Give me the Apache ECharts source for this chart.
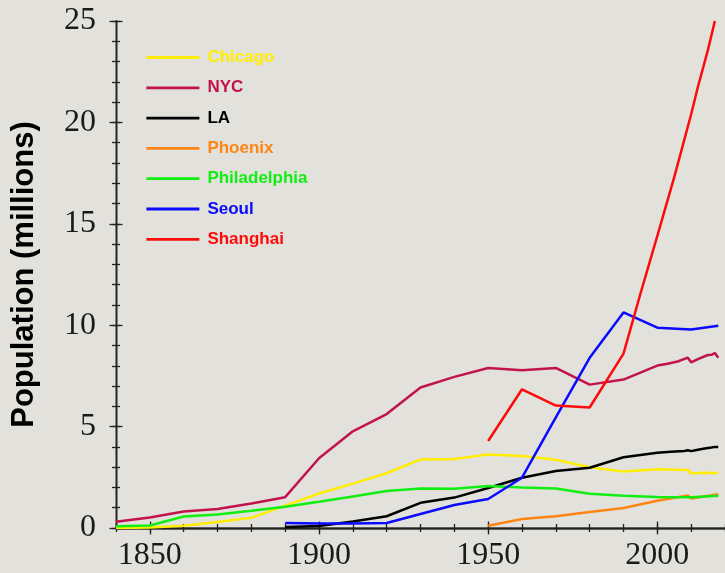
<!DOCTYPE html>
<html lang="en">
<head>
    <meta charset="utf-8">
    <title>City populations</title>
    <script src="https://cdn.jsdelivr.net/npm/echarts@6/dist/echarts.min.js"></script>
    <style>
        html, body { margin: 0; padding: 0; background: #e2e1dc; }
    </style>
</head>
<body>
<div id="main" style="width:725px;height:573px;"></div>
<script type="text/javascript">
    // population in millions
    var chicagoYears = [1840, 1850, 1860, 1870, 1880, 1890, 1900, 1910, 1920, 1930, 1940, 1950, 1960, 1970, 1980, 1990, 2000, 2009, 2010, 2014, 2018];
    var chicagoPop = [0.005, 0.03, 0.11, 0.30, 0.50, 1.10, 1.70, 2.19, 2.70, 3.38, 3.40, 3.62, 3.55, 3.37, 3.00, 2.78, 2.90, 2.86, 2.70, 2.72, 2.71];

    var nycYears = [1840, 1850, 1860, 1870, 1880, 1890, 1900, 1910, 1920, 1930, 1940, 1950, 1960, 1970, 1980, 1990, 2000, 2003, 2006, 2009, 2010, 2012, 2014, 2015, 2016, 2017, 2018];
    var nycPop = [0.31, 0.52, 0.81, 0.94, 1.21, 1.52, 3.44, 4.77, 5.62, 6.93, 7.45, 7.89, 7.78, 7.89, 7.07, 7.32, 8.01, 8.10, 8.21, 8.40, 8.17, 8.33, 8.47, 8.53, 8.54, 8.63, 8.40];

    var laYears = [1890, 1900, 1910, 1920, 1930, 1940, 1950, 1960, 1970, 1980, 1990, 2000, 2004, 2008, 2009, 2010, 2012, 2014, 2016, 2017, 2018];
    var laPop = [0.05, 0.10, 0.32, 0.58, 1.24, 1.50, 1.97, 2.48, 2.81, 2.97, 3.49, 3.71, 3.76, 3.80, 3.83, 3.79, 3.86, 3.92, 3.97, 4.00, 3.99];

    var phoenixYears = [1950, 1960, 1970, 1980, 1990, 2000, 2009, 2010, 2018];
    var phoenixPop = [0.11, 0.44, 0.58, 0.79, 0.99, 1.34, 1.60, 1.45, 1.66];

    var phillyYears = [1840, 1850, 1860, 1870, 1880, 1890, 1900, 1910, 1920, 1930, 1940, 1950, 1960, 1970, 1980, 1990, 2000, 2010, 2018];
    var phillyPop = [0.09, 0.12, 0.57, 0.67, 0.85, 1.05, 1.29, 1.55, 1.82, 1.95, 1.93, 2.07, 2.00, 1.95, 1.69, 1.59, 1.53, 1.52, 1.59];

    var seoulYears = [1890, 1900, 1910, 1920, 1940, 1950, 1960, 1970, 1980, 1990, 2000, 2010, 2018];
    var seoulPop = [0.25, 0.22, 0.22, 0.25, 1.13, 1.43, 2.48, 5.45, 8.39, 10.63, 9.88, 9.79, 9.97];

    var shanghaiYears = [1950, 1960, 1970, 1980, 1990, 1995, 2000, 2005, 2010, 2012, 2015, 2017];
    var shanghaiPop = [4.29, 6.84, 6.04, 5.94, 8.60, 11.55, 14.40, 17.30, 20.40, 21.76, 23.60, 25.0];

    var cityNames = ['Chicago', 'NYC', 'LA', 'Phoenix', 'Philadelphia', 'Seoul', 'Shanghai'];
    var cityColors = ['#ffee00', '#c3134d', '#000000', '#ff8512', '#11ee11', '#0a0aff', '#ff0a0a'];
    var cityData = [
        [chicagoYears, chicagoPop],
        [nycYears, nycPop],
        [laYears, laPop],
        [phoenixYears, phoenixPop],
        [phillyYears, phillyPop],
        [seoulYears, seoulPop],
        [shanghaiYears, shanghaiPop]
    ];

    var xLabelValues = [1850, 1900, 1950, 2000];

    var axisColor = '#222222';
    var serifFont = '"Liberation Serif", "DejaVu Serif", serif';

    function pairs(xs, ys) {
        return xs.map(function (x, i) { return [x, ys[i]]; });
    }

    function plain(v) {
        return String(v);
    }

    // one axis per tick set, so ticks can cross the line
    function xAxisPart(inside, major, withLabel) {
        var tick = { show: true, inside: inside, length: major ? 6.5 : 4, lineStyle: { color: axisColor, width: 1.3 } };
        if (major) tick.customValues = xLabelValues;
        return {
            type: 'value', min: 1840, max: 2020, interval: 10,
            position: 'bottom', offset: 0,
            axisLine: { show: true, lineStyle: { color: axisColor, width: 1.3 } },
            axisTick: tick,
            axisLabel: {
                show: withLabel, customValues: xLabelValues, margin: 12,
                formatter: plain,
                fontFamily: serifFont, fontSize: 32, color: '#1a1a1a'
            },
            splitLine: { show: false }
        };
    }

    function yAxisPart(inside, major, withLabel) {
        return {
            type: 'value', min: 0, max: 25, interval: major ? 5 : 1,
            position: 'left', offset: 0,
            name: withLabel ? 'Population (millions)' : '',
            nameLocation: 'middle', nameGap: 76,
            nameTextStyle: { fontFamily: '"Liberation Sans", Arial, sans-serif', fontWeight: 'bold', fontSize: 31, color: '#000' },
            axisLine: { show: true, lineStyle: { color: axisColor, width: 1.3 } },
            axisTick: { show: true, inside: inside, length: major ? 6.5 : 4, lineStyle: { color: axisColor, width: 1.3 } },
            axisLabel: {
                show: withLabel, margin: 20,
                formatter: plain,
                fontFamily: serifFont, fontSize: 32, color: '#1a1a1a'
            },
            splitLine: { show: false }
        };
    }

    var myChart = echarts.init(document.getElementById('main'));
    myChart.setOption({
        backgroundColor: '#e2e1dc',
        animation: false,
        grid: { left: 116, right: 0, top: 21, bottom: 45 },
        legend: {
            orient: 'vertical',
            left: 145,
            top: 49,
            padding: 0,
            itemWidth: 53,
            itemHeight: 17,
            itemGap: 13.3,
            itemStyle: { opacity: 0 },
            lineStyle: { width: 2.8 },
            textStyle: { fontFamily: '"Liberation Sans", Arial, sans-serif', fontWeight: 'bold', fontSize: 17, padding: [0, 0, 0, 3] },
            data: cityNames.map(function (n, i) {
                return { name: n, textStyle: { color: cityColors[i] } };
            })
        },
        xAxis: [
            xAxisPart(false, true, true),
            xAxisPart(true, true, false),
            xAxisPart(false, false, false),
            xAxisPart(true, false, false)
        ],
        yAxis: [
            yAxisPart(false, true, true),
            yAxisPart(true, true, false),
            yAxisPart(false, false, false),
            yAxisPart(true, false, false)
        ],
        series: cityNames.map(function (n, i) {
            return {
                name: n,
                type: 'line',
                xAxisIndex: 0,
                yAxisIndex: 0,
                symbol: 'none',
                color: cityColors[i],
                lineStyle: { width: 2.5, color: cityColors[i] },
                data: pairs(cityData[i][0], cityData[i][1])
            };
        })
    });
</script>
</body>
</html>
